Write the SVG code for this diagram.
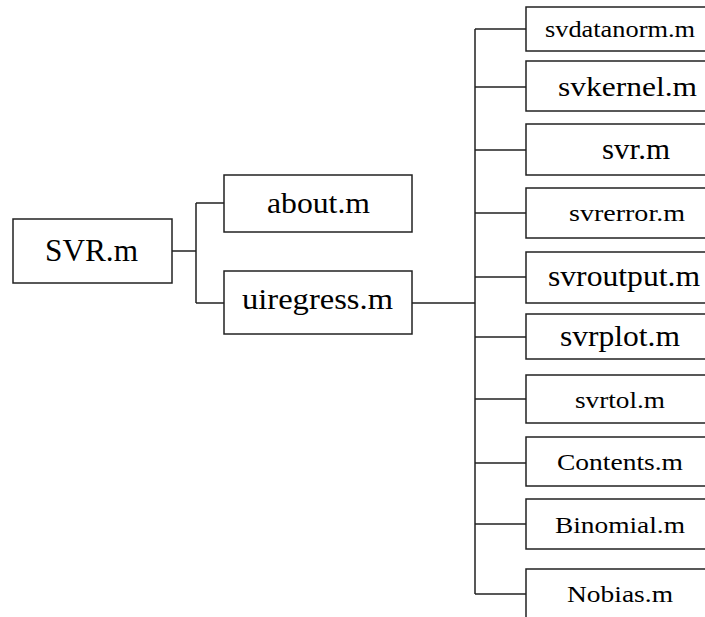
<svg xmlns="http://www.w3.org/2000/svg" width="705" height="617" viewBox="0 0 705 617">
<style>
.box{fill:#fff;stroke:#222;stroke-width:1.5}
.lbl{font-family:"Liberation Serif",serif;fill:#000}
.con{fill:none;stroke:#222;stroke-width:1.5}
</style>
<rect width="705" height="617" fill="#fff"/>
<g id="connectors">
<path class="con" d="M172,251 H196 M196,203 V303 M196,203 H224 M196,303 H224"/>
<path class="con" d="M412,303 H475 M475,29 V594"/>
<path class="con" d="M475,29 H526 M475,87 H526 M475,150 H526 M475,213 H526 M475,277 H526 M475,337 H526 M475,399 H526 M475,463 H526 M475,524 H526 M475,594 H526"/>
</g>
<g id="svr"><rect class="box" x="13" y="219" width="159" height="64"/><text class="lbl" x="45" y="261" font-size="32" textLength="93" lengthAdjust="spacingAndGlyphs">SVR.m</text></g>
<g id="about"><rect class="box" x="224" y="175" width="188" height="57"/><text class="lbl" x="267" y="213" font-size="29" textLength="103" lengthAdjust="spacingAndGlyphs">about.m</text></g>
<g id="uiregress"><rect class="box" x="224" y="271" width="188" height="63"/><text class="lbl" x="242" y="309" font-size="30" textLength="151" lengthAdjust="spacingAndGlyphs">uiregress.m</text></g>
<g id="svdatanorm"><rect class="box" x="526" y="7" width="200" height="44"/><text class="lbl" x="545" y="37" font-size="23" textLength="150" lengthAdjust="spacingAndGlyphs">svdatanorm.m</text></g>
<g id="svkernel"><rect class="box" x="526" y="61" width="200" height="50"/><text class="lbl" x="558" y="96" font-size="28" textLength="139" lengthAdjust="spacingAndGlyphs">svkernel.m</text></g>
<g id="svrm"><rect class="box" x="526" y="124" width="200" height="51"/><text class="lbl" x="602" y="159" font-size="29" textLength="68" lengthAdjust="spacingAndGlyphs">svr.m</text></g>
<g id="svrerror"><rect class="box" x="526" y="188" width="200" height="50"/><text class="lbl" x="569" y="221" font-size="24" textLength="116" lengthAdjust="spacingAndGlyphs">svrerror.m</text></g>
<g id="svroutput"><rect class="box" x="526" y="252" width="200" height="51"/><text class="lbl" x="548" y="286" font-size="29" textLength="152" lengthAdjust="spacingAndGlyphs">svroutput.m</text></g>
<g id="svrplot"><rect class="box" x="526" y="314" width="200" height="45"/><text class="lbl" x="560" y="346" font-size="29" textLength="120" lengthAdjust="spacingAndGlyphs">svrplot.m</text></g>
<g id="svrtol"><rect class="box" x="526" y="375" width="200" height="48"/><text class="lbl" x="575" y="408" font-size="24" textLength="90" lengthAdjust="spacingAndGlyphs">svrtol.m</text></g>
<g id="contents"><rect class="box" x="526" y="437" width="200" height="49"/><text class="lbl" x="557" y="470" font-size="24" textLength="126" lengthAdjust="spacingAndGlyphs">Contents.m</text></g>
<g id="binomial"><rect class="box" x="526" y="499" width="200" height="50"/><text class="lbl" x="555" y="533" font-size="24" textLength="130" lengthAdjust="spacingAndGlyphs">Binomial.m</text></g>
<g id="nobias"><rect class="box" x="526" y="569" width="200" height="70"/><text class="lbl" x="567" y="602" font-size="24" textLength="106" lengthAdjust="spacingAndGlyphs">Nobias.m</text></g>
</svg>
